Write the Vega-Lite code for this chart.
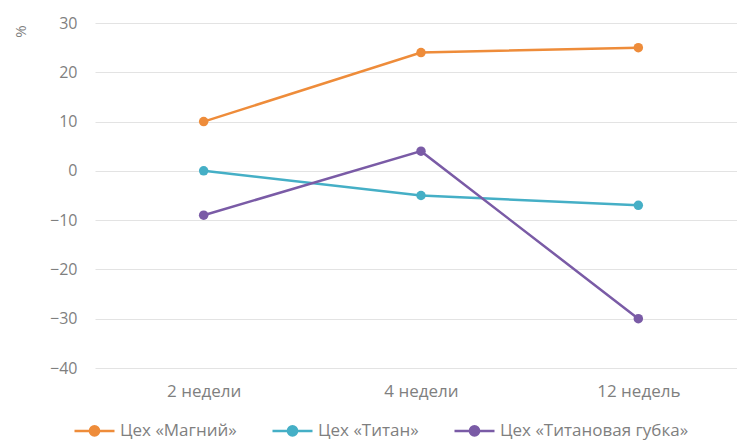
{
  "$schema": "https://vega.github.io/schema/vega-lite/v6.json",
  "width": 652,
  "height": 345,
  "autosize": "none",
  "padding": {"left": 95, "top": 23, "right": -10, "bottom": 77},
  "background": "white",
  "config": {"font": "Open Sans", "view": {"stroke": null}},
  "data": {"values": [
    {"period": "2 недели", "series": "Цех «Магний»", "value": 10},
    {"period": "4 недели", "series": "Цех «Магний»", "value": 24},
    {"period": "12 недель", "series": "Цех «Магний»", "value": 25},
    {"period": "2 недели", "series": "Цех «Титан»", "value": 0},
    {"period": "4 недели", "series": "Цех «Титан»", "value": -5},
    {"period": "12 недель", "series": "Цех «Титан»", "value": -7},
    {"period": "2 недели", "series": "Цех «Титановая губка»", "value": -9},
    {"period": "4 недели", "series": "Цех «Титановая губка»", "value": 4},
    {"period": "12 недель", "series": "Цех «Титановая губка»", "value": -30}
  ]},
  "mark": {"type": "line", "strokeWidth": 2.5, "point": {"size": 90, "filled": true}},
  "encoding": {
    "x": {
      "field": "period", "type": "ordinal",
      "sort": ["2 недели", "4 недели", "12 недель"],
      "scale": {"type": "point", "padding": 0.5},
      "axis": {"title": null, "labelAngle": 0, "labelFontSize": 17, "labelColor": "#7f7f7f", "labelPadding": 15, "ticks": false, "domain": false, "grid": false}
    },
    "y": {
      "field": "value", "type": "quantitative",
      "scale": {"domain": [-40, 30], "nice": false},
      "axis": {
        "values": [-40, -30, -20, -10, 0, 10, 20, 30],
        "title": "%", "titleAngle": -90, "titleX": -75, "titleY": 8, "titleAlign": "center", "titleBaseline": "middle",
        "titleFontSize": 15, "titleFontWeight": "normal", "titleColor": "#7f7f7f",
        "labelFontSize": 16, "labelColor": "#7f7f7f", "labelPadding": 18,
        "ticks": false, "domain": false, "gridColor": "#e3e3e3", "gridWidth": 1
      }
    },
    "color": {
      "field": "series", "type": "nominal",
      "scale": {"domain": ["Цех «Магний»", "Цех «Титан»", "Цех «Титановая губка»"], "range": ["#EE8C3A", "#45AFC6", "#7A5BA6"]},
      "legend": {
        "title": null, "orient": "none", "direction": "horizontal",
        "legendX": -22, "legendY": 386, "padding": 0,
        "symbolType": "M-1,0L1,0M-0.23,0A0.23,0.23 0 1,1 0.23,0A0.23,0.23 0 1,1 -0.23,0Z",
        "symbolSize": 1600, "symbolStrokeWidth": 2.5,
        "labelFontSize": 17, "labelLimit": 400, "labelColor": "#7f7f7f", "labelOffset": 4, "columnPadding": 30
      }
    }
  }
}
